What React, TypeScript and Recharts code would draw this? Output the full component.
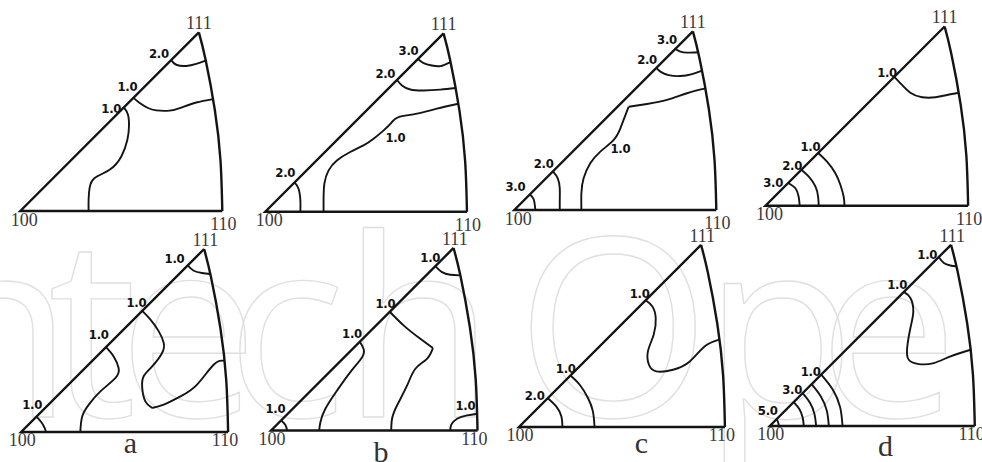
import React from "react";
import { ScatterChart, Scatter, XAxis, YAxis } from "recharts";

// inverse pole figure contours, coordinates normalised so that 100=(0,0), 110=(1,0)
// the 100-111 side is the diagonal u=v, 111 sits at (0.884, 0.884)

const EDGES = [[0.884, 0.884], [0, 0], [1, 0]];
const ARC = [[1, 0], [0.991, 0.25], [0.963, 0.5], [0.917, 0.75], [0.884, 0.884]];

// top row
const A_TOP_20 = [[0.747, 0.747], [0.772, 0.724], [0.822, 0.718], [0.871, 0.728], [0.917, 0.744]];
const A_TOP_10A = [[0.56, 0.56], [0.591, 0.535], [0.632, 0.51], [0.673, 0.498], [0.739, 0.497], [0.797, 0.512], [0.871, 0.537], [0.955, 0.554]];
const A_TOP_10B = [[0.513, 0.513], [0.533, 0.477], [0.538, 0.419], [0.53, 0.353], [0.5, 0.27], [0.442, 0.204], [0.368, 0.163], [0.343, 0.114], [0.338, 0.056], [0.338, 0]];
const A_TOP_LABELS = [["2.0", 0.686, 0.782], ["1.0", 0.53, 0.614], ["1.0", 0.45, 0.508]];

const B_TOP_30 = [[0.757, 0.757], [0.785, 0.737], [0.826, 0.725], [0.868, 0.722], [0.918, 0.742]];
const B_TOP_20 = [[0.653, 0.653], [0.678, 0.626], [0.719, 0.606], [0.785, 0.601], [0.868, 0.605], [0.944, 0.613]];
const B_TOP_10 = [[0.957, 0.535], [0.851, 0.511], [0.752, 0.486], [0.661, 0.469], [0.628, 0.444], [0.587, 0.403], [0.537, 0.362], [0.487, 0.329], [0.421, 0.296], [0.355, 0.254], [0.314, 0.205], [0.293, 0.139], [0.289, 0.056], [0.289, 0]];
const B_TOP_20B = [[0.145, 0.145], [0.165, 0.114], [0.174, 0.056], [0.174, 0]];
const B_TOP_LABELS = [["3.0", 0.71, 0.8], ["2.0", 0.595, 0.687], ["1.0", 0.645, 0.37], ["2.0", 0.099, 0.196]];

const C_TOP_30 = [[0.797, 0.797], [0.822, 0.784], [0.855, 0.779], [0.91, 0.781]];
const C_TOP_20 = [[0.703, 0.703], [0.723, 0.685], [0.764, 0.668], [0.822, 0.663], [0.88, 0.673], [0.93, 0.69]];
const C_TOP_10A = [[0.947, 0.602], [0.855, 0.578], [0.756, 0.545], [0.657, 0.525], [0.566, 0.511]];
const C_TOP_10B = [[0.566, 0.511], [0.55, 0.47], [0.525, 0.404], [0.492, 0.347], [0.426, 0.289], [0.376, 0.231], [0.343, 0.157], [0.332, 0.083], [0.332, 0]];
const C_TOP_20B = [[0.191, 0.191], [0.215, 0.157], [0.225, 0.107], [0.225, 0.05], [0.225, 0]];
const C_TOP_30B = [[0.077, 0.077], [0.096, 0.053], [0.104, 0]];
const C_TOP_LABELS = [["3.0", 0.756, 0.842], ["2.0", 0.657, 0.743], ["1.0", 0.525, 0.305], ["2.0", 0.145, 0.231], ["3.0", 0.005, 0.115]];

const D_TOP_10 = [[0.636, 0.636], [0.666, 0.604], [0.715, 0.557], [0.773, 0.535], [0.839, 0.535], [0.896, 0.546], [0.954, 0.557]];
const D_TOP_30 = [[0.112, 0.112], [0.148, 0.086], [0.164, 0.044], [0.169, 0]];
const D_TOP_20 = [[0.177, 0.177], [0.214, 0.143], [0.247, 0.094], [0.26, 0.044], [0.263, 0]];
const D_TOP_10B = [[0.26, 0.26], [0.304, 0.217], [0.345, 0.16], [0.37, 0.102], [0.386, 0.044], [0.39, 0]];
const D_TOP_LABELS = [["1.0", 0.6, 0.656], ["1.0", 0.222, 0.291], ["2.0", 0.132, 0.197], ["3.0", 0.038, 0.113]];

// bottom row
const A_BOT_T = [[0.805, 0.805], [0.834, 0.779], [0.874, 0.768], [0.914, 0.763]];
const A_BOT_M1A = [[0.585, 0.585], [0.625, 0.543], [0.665, 0.486], [0.689, 0.43], [0.681, 0.382], [0.633, 0.317], [0.592, 0.269], [0.585, 0.213], [0.6, 0.148], [0.633, 0.116]];
const A_BOT_M1B = [[0.633, 0.116], [0.689, 0.132], [0.77, 0.172], [0.85, 0.229], [0.93, 0.325], [0.98, 0.344]];
const A_BOT_M2 = [[0.41, 0.41], [0.447, 0.365], [0.471, 0.309], [0.456, 0.261], [0.383, 0.196], [0.327, 0.132], [0.295, 0.075], [0.286, 0]];
const A_BOT_O = [[0.074, 0.074], [0.097, 0.048], [0.114, 0.019], [0.12, 0]];
const A_BOT_LABELS = [["1.0", 0.741, 0.837], ["1.0", 0.557, 0.628], ["1.0", 0.375, 0.473], ["1.0", 0.053, 0.132]];

const B_BOT_T = [[0.796, 0.796], [0.828, 0.767], [0.868, 0.754], [0.914, 0.751]];
const B_BOT_M1A = [[0.575, 0.575], [0.643, 0.508], [0.723, 0.444], [0.784, 0.399]];
const B_BOT_M1B = [[0.784, 0.399], [0.755, 0.347], [0.699, 0.299], [0.659, 0.218], [0.61, 0.121], [0.586, 0.057], [0.582, 0]];
const B_BOT_M2 = [[0.43, 0.43], [0.448, 0.396], [0.441, 0.355], [0.384, 0.283], [0.32, 0.194], [0.263, 0.105], [0.239, 0.04], [0.233, 0]];
const B_BOT_O = [[0.048, 0.048], [0.069, 0.028], [0.078, 0]];
const B_BOT_R = [[0.999, 0.081], [0.949, 0.073], [0.901, 0.057], [0.873, 0.028], [0.868, 0]];
const B_BOT_LABELS = [["1.0", 0.771, 0.839], ["1.0", 0.554, 0.614], ["1.0", 0.392, 0.468], ["1.0", 0.021, 0.105], ["1.0", 0.941, 0.121]];

const C_BOT_M = [[0.615, 0.615], [0.648, 0.585], [0.664, 0.529], [0.654, 0.448], [0.626, 0.367], [0.631, 0.302], [0.667, 0.27], [0.748, 0.278], [0.829, 0.318], [0.901, 0.391], [0.972, 0.424]];
const C_BOT_L = [[0.25, 0.25], [0.295, 0.205], [0.335, 0.141], [0.359, 0.076], [0.367, 0]];
const C_BOT_20 = [[0.14, 0.14], [0.181, 0.1], [0.206, 0.051], [0.211, 0]];
const C_BOT_LABELS = [["1.0", 0.586, 0.65], ["1.0", 0.227, 0.286], ["2.0", 0.076, 0.153]];

const D_BOT_T = [[0.824, 0.824], [0.849, 0.795], [0.881, 0.783], [0.91, 0.779]];
const D_BOT_M = [[0.654, 0.654], [0.686, 0.624], [0.7, 0.559], [0.686, 0.478], [0.67, 0.38], [0.678, 0.323], [0.727, 0.302], [0.8, 0.307], [0.882, 0.34], [0.98, 0.372]];
const D_BOT_50 = [[0.032, 0.032], [0.039, 0.022], [0.045, 0]];
const D_BOT_40 = [[0.117, 0.117], [0.144, 0.083], [0.16, 0.043], [0.166, 0]];
const D_BOT_30 = [[0.16, 0.16], [0.196, 0.113], [0.218, 0.058], [0.226, 0]];
const D_BOT_20 = [[0.204, 0.204], [0.249, 0.144], [0.278, 0.075], [0.288, 0]];
const D_BOT_10 = [[0.251, 0.251], [0.307, 0.178], [0.343, 0.092], [0.355, 0]];
const D_BOT_LABELS = [["1.0", 0.768, 0.839], ["1.0", 0.621, 0.689], ["1.0", 0.199, 0.264], ["3.0", 0.109, 0.178], ["5.0", -0.01, 0.075]];

const TOP_CORNERS = [["100", 0.02, -0.073], ["110", 1.005, -0.095], ["111", 0.884, 0.9]];
const BOTTOM_CORNERS = [["100", 0.005, -0.07], ["110", 0.985, -0.07], ["111", 0.89, 0.898]];
const SUB_LABELS = [["a", 0.528, -0.1], ["b", 0.533, -0.155], ["c", 0.594, -0.125], ["d", 0.564, -0.145]];

// faint publisher watermark behind the lower row, one letter per x
const WATERMARK = "IntechOpen";
const WATERMARK_X = [-140, -80, 48, 118, 226, 342, 516, 703, 818, 970];

// panel frames: pixel position of 100 and length of the 100-110 side
const FRAMES: Record<string, [number, number, number]> = {
  aTop: [20.7, 211.3, 202],
  bTop: [265, 211.3, 201.7],
  cTop: [514, 210, 202],
  dTop: [765, 205.7, 202.7],
  aBot: [20.7, 432.3, 207],
  bBot: [270.7, 430, 206.5],
  cBot: [519.3, 427.3, 206],
  dBot: [769.3, 426.3, 205],
};

const PANELS = [
  { frame: FRAMES.aTop, lines: [A_TOP_20, A_TOP_10A, A_TOP_10B], labels: A_TOP_LABELS, corners: TOP_CORNERS },
  { frame: FRAMES.bTop, lines: [B_TOP_30, B_TOP_20, B_TOP_10, B_TOP_20B], labels: B_TOP_LABELS, corners: TOP_CORNERS },
  { frame: FRAMES.cTop, lines: [C_TOP_30, C_TOP_20, C_TOP_10A, C_TOP_10B, C_TOP_20B, C_TOP_30B], labels: C_TOP_LABELS, corners: TOP_CORNERS },
  { frame: FRAMES.dTop, lines: [D_TOP_10, D_TOP_30, D_TOP_20, D_TOP_10B], labels: D_TOP_LABELS, corners: TOP_CORNERS },
  { frame: FRAMES.aBot, lines: [A_BOT_T, A_BOT_M1A, A_BOT_M1B, A_BOT_M2, A_BOT_O], labels: A_BOT_LABELS, corners: BOTTOM_CORNERS, sub: SUB_LABELS[0] },
  { frame: FRAMES.bBot, lines: [B_BOT_T, B_BOT_M1A, B_BOT_M1B, B_BOT_M2, B_BOT_O, B_BOT_R], labels: B_BOT_LABELS, corners: BOTTOM_CORNERS, sub: SUB_LABELS[1] },
  { frame: FRAMES.cBot, lines: [C_BOT_M, C_BOT_L, C_BOT_20], labels: C_BOT_LABELS, corners: BOTTOM_CORNERS, sub: SUB_LABELS[2] },
  { frame: FRAMES.dBot, lines: [D_BOT_T, D_BOT_M, D_BOT_50, D_BOT_40, D_BOT_30, D_BOT_20, D_BOT_10], labels: D_BOT_LABELS, corners: BOTTOM_CORNERS, sub: SUB_LABELS[3] },
];

const INK = "#141414";
const U0 = -0.16, U1 = 1.12, V0 = -0.24, V1 = 1.0;

const toPts = (a: number[][]) => a.map(([u, v]) => ({ u, v }));
const toText = (a: any[]) => a.map(([t, u, v]) => ({ t, u, v }));
const noDot = () => <g />;

const contourText = (p: any) => (
  <text x={p.cx} y={p.cy} textAnchor="middle" dominantBaseline="central"
    fontFamily="'Liberation Sans Narrow', 'DejaVu Sans Condensed', sans-serif"
    fontWeight={700} fontSize={13} letterSpacing={-0.3} fill="#111">
    {p.payload.t}
  </text>
);
const cornerText = (p: any) => (
  <text x={p.cx} y={p.cy} textAnchor="middle" fontFamily="'Liberation Serif', serif" fontSize={18} fill="#3a3a3a">
    {p.payload.t}
  </text>
);
const subText = (p: any) => (
  <text x={p.cx} y={p.cy} textAnchor="middle" fontFamily="'Liberation Serif', serif" fontSize={30} fill="#333">
    {p.payload.t}
  </text>
);

function Panel({ frame, lines, labels, corners, sub }: any) {
  const [ox, oy, s] = frame;
  const w = (U1 - U0) * s;
  const h = (V1 - V0) * s;
  return (
    <div style={{ position: "absolute", left: ox + U0 * s, top: oy - V1 * s }}>
      <ScatterChart width={w} height={h} margin={{ top: 0, right: 0, bottom: 0, left: 0 }} style={{ overflow: "visible" }}>
        <XAxis type="number" dataKey="u" domain={[U0, U1]} hide allowDataOverflow />
        <YAxis type="number" dataKey="v" domain={[V0, V1]} hide allowDataOverflow />
        <Scatter data={toPts(EDGES)} fill={INK} line={{ stroke: INK, strokeWidth: 2.4 }} lineJointType="linear" shape={noDot} isAnimationActive={false} />
        <Scatter data={toPts(ARC)} fill={INK} line={{ stroke: INK, strokeWidth: 2.4 }} lineJointType="natural" shape={noDot} isAnimationActive={false} />
        {lines.map((c: number[][], i: number) => (
          <Scatter key={i} data={toPts(c)} fill={INK} line={{ stroke: INK, strokeWidth: 1.9 }} lineJointType="natural" shape={noDot} isAnimationActive={false} />
        ))}
        <Scatter data={toText(labels)} shape={contourText} isAnimationActive={false} />
        <Scatter data={toText(corners)} shape={cornerText} isAnimationActive={false} />
        {sub && <Scatter data={toText([sub])} shape={subText} isAnimationActive={false} />}
      </ScatterChart>
    </div>
  );
}

export default function App() {
  return (
    <div style={{ position: "absolute", left: 0, top: 0, width: 982, height: 462, overflow: "hidden", background: "#fff" }}>
      <svg width={982} height={462} style={{ position: "absolute", left: 0, top: 0 }}>
        <text x={WATERMARK_X.join(" ")} y={417} fontSize={250} fontFamily="'Open Sans', sans-serif" fontWeight={400}
          fill="none" stroke="#e0e0e0" strokeWidth={1.4}>
          {WATERMARK}
        </text>
      </svg>
      {PANELS.map((p, i) => (
        <Panel key={i} {...p} />
      ))}
    </div>
  );
}
